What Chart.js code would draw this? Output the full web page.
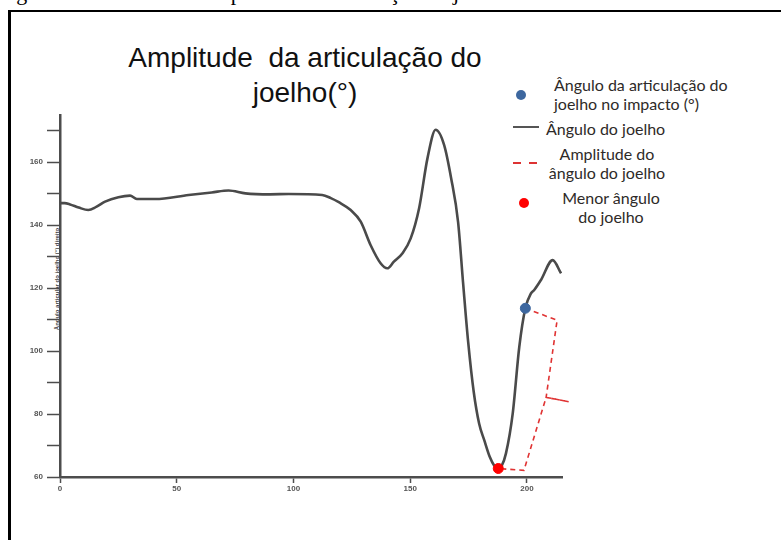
<!DOCTYPE html>
<html>
<head>
<meta charset="utf-8">
<script src="https://cdn.jsdelivr.net/npm/chart.js@4"></script>
<style>
    html, body { margin: 0; padding: 0; background: #fff; }
    body { width: 781px; height: 540px; position: relative; overflow: hidden; }
    .caption { position: absolute; left: -2px; top: -18px; font: 22px/22px "Liberation Serif", "DejaVu Serif", serif; color: #000; white-space: nowrap; }
    .frame { position: absolute; left: 8px; top: 10px; width: 900px; height: 700px; border-left: 3px solid #000; border-top: 2px solid #000; }
    canvas { position: absolute; left: 0; top: 0; }
    .title { position: absolute; left: 105px; width: 400px; text-align: center; font: 28px "Liberation Sans", Arial, sans-serif; color: #111; white-space: nowrap; }
    .ytitle { position: absolute; left: 57px; top: 279px; transform: translate(-50%, -50%) rotate(-90deg); font: bold 6px "Liberation Sans", Arial, sans-serif; color: #444; white-space: nowrap; }
    .leg { position: absolute; font: 16px/19px Lato, "Open Sans", sans-serif; color: #2e2a28; white-space: nowrap; }
    .mark { position: absolute; }
</style>
</head>
<body>
<div class="caption">Figura 12 – Gráfico da amplitude da articulação do joelho</div>
<div class="frame"></div>
<div class="title" style="top:42px">Amplitude&nbsp; da articulação do</div>
<div class="title" style="top:77px">joelho(°)</div>
<div class="ytitle">Ângulo articular do joelho (°) direito</div>
<div id="legend"></div>
<canvas id="chart" width="781" height="540"></canvas>
<script>
// knee angle curve (frame, degrees)
const angleX = [0, 2, 4.3, 8, 12.1, 15.5, 19.3, 25, 30, 32.9, 40.8, 55.1, 65, 72.2, 79.4, 90, 98, 112.3, 116, 119.4, 124.5, 128.8, 133, 137.3, 140.2, 143, 146.7, 150.2, 153.8, 157.4, 160.9, 164.5, 167.5, 170.5, 172.6, 174.8, 177.2, 179.5, 181.7, 184, 186, 187.7, 189.2, 191, 193.9, 196.7, 199.3, 201.7, 203.1, 206, 211, 214.6];
const angleY = [147.0, 147.0, 146.6, 145.6, 144.8, 145.8, 147.5, 148.9, 149.4, 148.3, 148.3, 149.6, 150.4, 151.0, 150.1, 149.8, 149.9, 149.6, 148.6, 147.3, 144.8, 141.1, 133.7, 127.9, 126.3, 128.4, 131.1, 135.8, 145.4, 161.3, 170.3, 165.5, 155.0, 141.0, 122.0, 103.0, 87.0, 77.0, 71.7, 66.5, 63.6, 62.7, 63.6, 67.5, 80.2, 101.3, 113.6, 118.3, 119.4, 122.6, 128.9, 124.7];

// knee angle at impact / lowest knee angle
const impactX = [199.3];
const impactY = [113.6];
const lowestX = [187.7];
const lowestY = [62.7];

// dashed brace marking the amplitude
const braceX = [199.3, 212.9, 208.2, 217.9, 208.2, 198.7, 187.7];
const braceY = [113.6, 109.8, 85.3, 83.9, 85.3, 62.1, 62.7];

const xTicks = [0, 50, 100, 150, 200];
const yTicks = [60, 70, 80, 90, 100, 110, 120, 130, 140, 150, 160, 170];

const legendLabels = [
    ['Ângulo da articulação  do', 'joelho no impacto  (°)'],
    ['Ângulo do joelho'],
    ['Amplitude do', 'ângulo do joelho'],
    ['Menor ângulo', 'do joelho']
];

const toPoints = (xs, ys) => xs.map((x, i) => ({ x: x, y: ys[i] }));

// legend (html, laid out like the figure)
const legendBox = document.getElementById('legend');
const legendSpots = [
    { left: 554, top: 75, center: false, mark: 'left:516px;top:90px;width:10px;height:10px;border-radius:50%;background:#3d679f' },
    { left: 546, top: 119, center: false, mark: 'left:513px;top:126px;width:26px;height:2px;background:#555' },
    { left: 607, top: 144, center: true, mark: 'left:513px;top:162px;width:24px;height:2px;background:repeating-linear-gradient(90deg,#d33 0 8px,transparent 8px 16px)' },
    { left: 611, top: 188, center: true, mark: 'left:519px;top:198px;width:10px;height:10px;border-radius:50%;background:#f00' }
];
legendLabels.forEach((lines, i) => {
    const s = legendSpots[i];
    const t = document.createElement('div');
    t.className = 'leg';
    t.style.left = s.left + 'px';
    t.style.top = s.top + 'px';
    if (s.center) {
        t.style.textAlign = 'center';
        t.style.transform = 'translateX(-50%)';
    }
    t.innerHTML = lines.join('<br>');
    legendBox.appendChild(t);
    const m = document.createElement('div');
    m.className = 'mark';
    m.style.cssText = s.mark;
    legendBox.appendChild(m);
});

const axisColor = '#4d4d4d';
const tickFont = { family: '"Liberation Sans", Arial, sans-serif', size: 8, weight: 'bold' };

new Chart(document.getElementById('chart'), {
    type: 'scatter',
    data: {
        datasets: [
            {
                data: toPoints(impactX, impactY),
                pointRadius: 5, pointBackgroundColor: '#3d679f', pointBorderColor: '#3d679f',
                order: 0
            },
            {
                data: toPoints(lowestX, lowestY),
                pointRadius: 5, pointBackgroundColor: '#ff0000', pointBorderColor: '#ff0000',
                order: 1
            },
            {
                data: toPoints(braceX, braceY),
                showLine: true, pointRadius: 0,
                borderColor: '#e03333', borderWidth: 1.6, borderDash: [5, 4],
                clip: false,
                order: 2
            },
            {
                data: toPoints(angleX, angleY),
                showLine: true, pointRadius: 0,
                borderColor: '#4a4a4a', borderWidth: 2.6,
                cubicInterpolationMode: 'monotone',
                order: 3
            }
        ]
    },
    options: {
        responsive: false,
        animation: false,
        layout: { padding: { left: 20, right: 219, top: 115, bottom: 33 } },
        plugins: { legend: { display: false }, tooltip: { enabled: false } },
        scales: {
            x: {
                type: 'linear', min: 0, max: 215,
                afterBuildTicks: (scale) => { scale.ticks = xTicks.map(v => ({ value: v })); },
                afterFit: (scale) => { scale.height = 30; },
                grid: { drawOnChartArea: false, drawTicks: true, tickLength: 6, tickWidth: 1.5, tickColor: axisColor },
                border: { color: axisColor, width: 2.5 },
                ticks: { font: tickFont, color: '#555', padding: 1, maxRotation: 0 }
            },
            y: {
                type: 'linear', min: 60, max: 175,
                afterBuildTicks: (scale) => { scale.ticks = yTicks.map(v => ({ value: v })); },
                afterFit: (scale) => { scale.width = 40; },
                grid: { drawOnChartArea: false, drawTicks: true, tickLength: 13, tickWidth: 1.5, tickColor: axisColor },
                border: { color: axisColor, width: 2.5 },
                ticks: {
                    font: tickFont, color: '#555', padding: 4,
                    callback: (v) => (v % 20 === 0 ? v : '')
                }
            }
        }
    }
});
</script>
</body>
</html>
